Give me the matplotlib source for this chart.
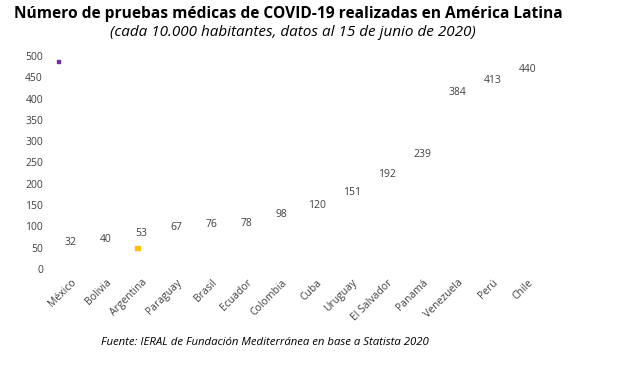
import matplotlib
matplotlib.use("Agg")
import matplotlib.pyplot as plt

categories = ["México", "Bolivia", "Argentina", "Paraguay", "Brasil", "Ecuador",
              "Colombia", "Cuba", "Uruguay", "El Salvador", "Panamá", "Venezuela",
              "Perú", "Chile"]
values = [32, 40, 53, 67, 76, 78, 98, 120, 151, 192, 239, 384, 413, 440]
yticks = [0, 50, 100, 150, 200, 250, 300, 350, 400, 450, 500]

# stray marker artifacts visible in the reference
stray_x = [-0.35, 1.9]
stray_y = [486, 49]
stray_colors = ["#7030a0", "#ffc000"]

plt.rcParams['font.family'] = ['Open Sans', 'DejaVu Sans']

fig = plt.figure(figsize=(6.17, 3.73), dpi=100)
ax = fig.add_axes([0.0866, 0.279, 0.797, 0.571])

x = list(range(len(categories)))
bars = ax.bar(x, values, width=0.6, color="white")
ax.bar_label(bars, labels=[str(v) for v in values], padding=5,
             fontsize=7.5, color="#404040")

ax.scatter(stray_x, stray_y, marker="s", s=[5, 12], c=stray_colors, zorder=3)
ax.plot([-0.5, -0.3], [0, 0], color="#d9d9d9", lw=0.8)

ax.set_xlim(-0.5, len(categories) - 0.5)
ax.set_ylim(0, 500)
ax.set_yticks(yticks)
ax.set_yticklabels([str(t) for t in yticks], fontsize=7.5, color="#404040")
ax.set_xticks(x)
ax.set_xticklabels(categories, rotation=45, ha="right", rotation_mode="anchor",
                   fontsize=7.5, color="#404040")
ax.tick_params(axis="both", length=0)
ax.tick_params(axis="y", pad=7.5)
ax.tick_params(axis="x", pad=6)
for s in ax.spines.values():
    s.set_visible(False)

fig.text(0.467, 0.962, "Número de pruebas médicas de COVID-19 realizadas en América Latina",
         ha="center", va="center", fontsize=11.2, fontweight="bold", color="black")
fig.text(0.475, 0.912, "(cada 10.000 habitantes, datos al 15 de junio de 2020)",
         ha="center", va="center", fontsize=11, style="italic", color="black")
fig.text(0.43, 0.083, "Fuente: IERAL de Fundación Mediterránea en base a Statista 2020",
         ha="center", va="center", fontsize=8.2, style="italic", color="black")

fig.savefig("out.png", dpi=100, facecolor="white")
